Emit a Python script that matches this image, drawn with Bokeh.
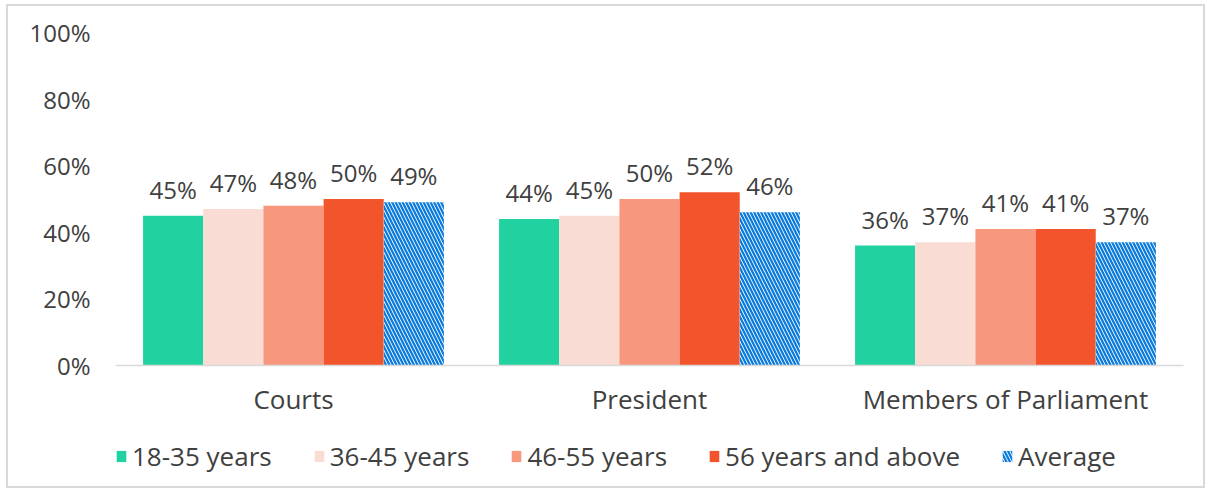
from bokeh.plotting import figure
from bokeh.layouts import column
from bokeh.models import ColumnDataSource, FactorRange, LabelSet, Legend, LegendItem, NumeralTickFormatter, FixedTicker
from bokeh.transform import dodge
from bokeh.core.properties import value
from bokeh.embed import file_html
from bokeh.resources import INLINE

categories = ["Courts", "President", "Members of Parliament"]
series = ["18-35 years", "36-45 years", "46-55 years", "56 years and above", "Average"]
v_18_35 = [0.45, 0.44, 0.36]
v_36_45 = [0.47, 0.45, 0.37]
v_46_55 = [0.48, 0.50, 0.41]
v_56_up = [0.50, 0.52, 0.41]
v_avg = [0.49, 0.46, 0.37]
y_ticks = [0, 0.2, 0.4, 0.6, 0.8, 1.0]

values = [v_18_35, v_36_45, v_46_55, v_56_up, v_avg]
colors = ["#21D19F", "#F9DCD3", "#F6977E", "#F2552B", "#FFFFFF"]
FONT = "Open Sans"
TXT = "#404040"
HATCH = dict(fill_color="white", hatch_pattern="\\", hatch_color="#0B7BDC",
             hatch_scale=7, hatch_weight=2.3)

W = 1195
p = figure(x_range=FactorRange(*categories, range_padding=0), y_range=(0, 1.0),
           width=W, height=422, output_backend="svg", toolbar_location=None,
           min_border_left=107, min_border_right=20, min_border_top=26, min_border_bottom=63)
p.outline_line_color = None
p.grid.grid_line_color = None
p.background_fill_color = "white"

bw = 0.169
offsets = [-2 * bw, -bw, 0, bw, 2 * bw]
for i, (name, vals, col) in enumerate(zip(series, values, colors)):
    src = ColumnDataSource(dict(cat=categories, val=vals,
                                lab=[f"{round(v*100)}%" for v in vals]))
    x = dodge("cat", offsets[i], range=p.x_range)
    if name == "Average":
        p.vbar(x=x, top="val", width=bw, source=src, line_color=None, **HATCH)
    else:
        p.vbar(x=x, top="val", width=bw, source=src, fill_color=col, line_color=None)
    labels = LabelSet(x=x, y="val", text="lab", source=src, text_align="center",
                      text_baseline="alphabetic", y_offset=17, text_font=value(FONT),
                      text_font_size="24px", text_color=TXT)
    p.add_layout(labels)

p.yaxis.ticker = FixedTicker(ticks=y_ticks)
p.yaxis.formatter = NumeralTickFormatter(format="0%")
p.yaxis.axis_line_color = None
p.yaxis.major_tick_line_color = None
p.yaxis.minor_tick_line_color = None
p.yaxis.major_label_standoff = 19
p.yaxis.major_label_text_font = FONT
p.yaxis.major_label_text_font_size = "24px"
p.yaxis.major_label_text_color = TXT

p.xaxis.axis_line_color = "#D9D9D9"
p.xaxis.axis_line_width = 1.5
p.xaxis.major_tick_line_color = None
p.xaxis.minor_tick_line_color = None
p.xaxis.major_label_standoff = 9
p.xaxis.major_label_text_font = FONT
p.xaxis.major_label_text_font_size = "26px"
p.xaxis.major_label_text_color = TXT

# legend strip below the chart (frame aligned with the main chart)
lg = figure(width=W, height=58, x_range=(0, 1), y_range=(0, 1), output_backend="svg",
            toolbar_location=None, min_border_left=107, min_border_right=20,
            min_border_top=0, min_border_bottom=0)
lg.axis.visible = False
lg.grid.grid_line_color = None
lg.outline_line_color = None
items = []
for name, col in zip(series, colors):
    hidden = ColumnDataSource(dict(x=[-10], top=[0]))
    if name == "Average":
        r = lg.vbar(x="x", top="top", width=0.1, source=hidden, line_color=None, **HATCH)
    else:
        r = lg.vbar(x="x", top="top", width=0.1, source=hidden, fill_color=col, line_color=None)
    items.append(LegendItem(label=name, renderers=[r]))
legend = Legend(items=items, orientation="horizontal", location=(0, 12),
                glyph_width=12, glyph_height=14, label_standoff=5, spacing=41,
                padding=0, margin=0, border_line_color=None, background_fill_alpha=0,
                label_text_font=FONT, label_text_font_size="26px", label_text_color=TXT)
lg.add_layout(legend, "center")

layout = column(p, lg, spacing=0,
                styles={"border": "2px solid #D9D9D9", "margin-left": "6px", "margin-top": "4px"})

open("out.html", "w").write(file_html(layout, INLINE))
